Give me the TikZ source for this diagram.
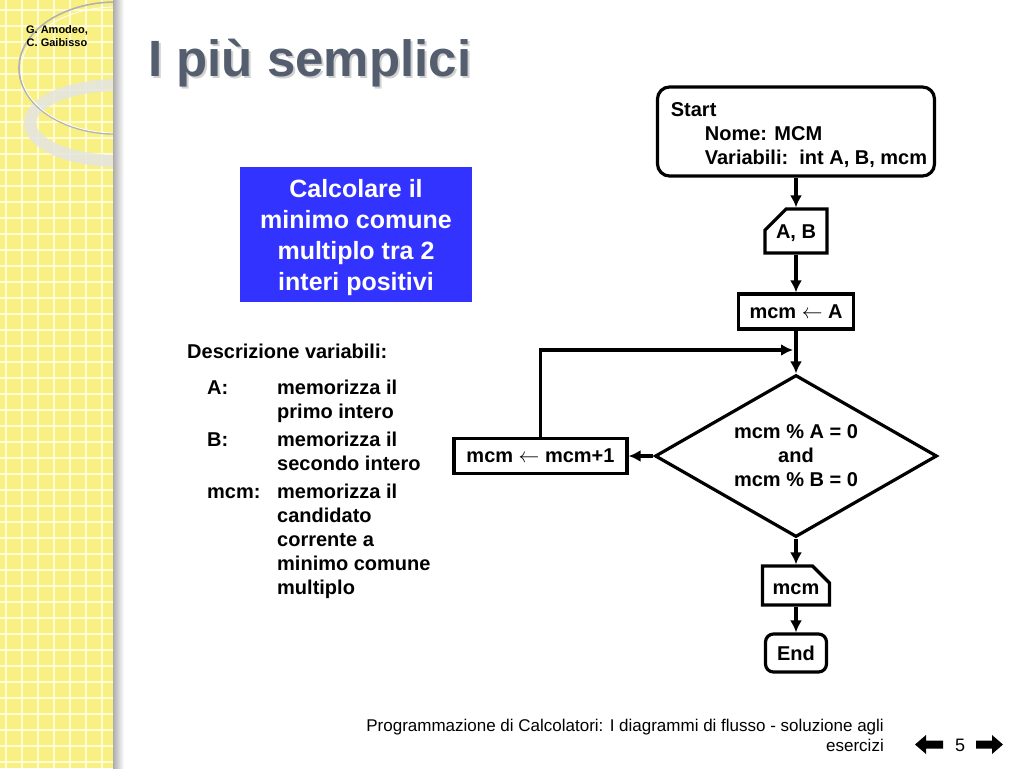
\documentclass[tikz,border=0pt]{standalone}
\usepackage{fontspec}
\setmainfont{Liberation Sans}
\usetikzlibrary{shapes.geometric,shapes.misc,arrows.meta}

\definecolor{giallo}{RGB}{248,240,128}
\definecolor{griglia}{RGB}{255,251,212}
\definecolor{blu}{RGB}{51,51,255}
\definecolor{grigiotitolo}{RGB}{84,94,110}

\tikzset{
  blocco/.style={draw, line width=3.2pt, font=\fontsize{20}{24}\selectfont\bfseries, inner sep=0pt, align=center},
  freccia/.style={line width=3.2pt, -{Latex[length=12pt,width=12pt]}},
  angolo/.style={chamfered rectangle, chamfered rectangle xsep=12pt, chamfered rectangle ysep=12pt},
}

\begin{document}
\begin{tikzpicture}[x=1pt,y=-1pt]
    \useasboundingbox (0,0) rectangle (1024,768);
    \fill[white] (0,0) rectangle (1024,768);

    % Barra laterale
    \begin{scope}
        \clip (0,0) rectangle (113,768);
        \fill[giallo] (0,0) rectangle (113,768);
        \foreach \gx in {6,22,...,118} \draw[griglia, line width=1.2pt] (\gx,0) -- (\gx,768);
        \foreach \gy in {10,26,...,778} \draw[griglia, line width=1.2pt] (0,\gy) -- (113,\gy);
        \draw[white!80!gray, opacity=0.85, line width=12pt] (118,123) ellipse [x radius=88, y radius=38];
        \draw[gray!60, line width=1.6pt] (116,68) ellipse [x radius=97, y radius=66];
        \draw[white, line width=0.8pt] (116,70) ellipse [x radius=95, y radius=63];
    \end{scope}
    \shade[left color=gray!65, right color=white] (113,0) rectangle (124,768);

    % Autori e titolo
    \node[font=\fontsize{11}{13}\selectfont\bfseries, align=center] (autori) at (57,36) {G. Amodeo,\\C. Gaibisso};
    \node[anchor=base west, inner sep=0, font=\fontsize{51}{51}\selectfont\bfseries, text=black!18] (ombra) at (150,78) {I più semplici};
    \node[anchor=base west, inner sep=0, font=\fontsize{51}{51}\selectfont\bfseries, text=grigiotitolo] (titolo) at (148,76) {I più semplici};

    % Testo del problema
    \node[fill=blu, text=white, font=\fontsize{25}{31}\selectfont\bfseries, align=center,
          minimum width=232, minimum height=135, inner sep=0] (problema) at (356,234.5)
          {\rule{0pt}{24pt}Calcolare il\\minimo comune\\multiplo tra 2\\interi positivi};

    % Descrizione variabili
    \node[anchor=north west, inner sep=0, font=\fontsize{20}{24}\selectfont\bfseries] (variabili) at (187,341) {%
        \begin{tabular}{@{\hspace{20pt}}p{70pt}@{}l@{}}
            \multicolumn{2}{@{}l@{}}{Descrizione variabili:}\\[12pt]
            A:   & memorizza il\\
                 & primo intero\\[4pt]
            B:   & memorizza il\\
                 & secondo intero\\[4pt]
            mcm: & memorizza il\\
                 & candidato\\
                 & corrente a\\
                 & minimo comune\\
                 & multiplo
        \end{tabular}};

    % Diagramma di flusso
    \node[blocco, rounded corners=12pt, align=left, minimum width=277, minimum height=89] (start) at (796,131.5)
          {\rule{0pt}{21pt}\hspace*{6pt}Start\\\hspace*{40pt}Nome: MCM\\\hspace*{40pt}Variabili:\ \ int A, B, mcm};
    \node[blocco, angolo, chamfered rectangle corners=north west, minimum width=62, minimum height=44] (leggi) at (796,231) {\raisebox{-2pt}[14pt][4pt]{A, B}};
    \node[blocco, minimum width=115, minimum height=35] (init) at (796,311.5) {mcm $\leftarrow$ A};
    \node[blocco, diamond, aspect=1.74, minimum width=282, minimum height=162] (test) at (796,456) {mcm \% A = 0\\and\\mcm \% B = 0};
    \node[blocco, minimum width=173, minimum height=35] (incr) at (540.5,456) {mcm $\leftarrow$ mcm+1};
    \node[blocco, angolo, chamfered rectangle corners=north east, minimum width=67, minimum height=39] (scrivi) at (796,585.5) {\raisebox{-4pt}[10pt][0pt]{mcm}};
    \node[blocco, rounded corners=8pt, minimum width=61, minimum height=38] (fine) at (796,653) {End};
    \coordinate (ritorno) at (793,350);

    % Connettori
    \draw[freccia] (start.south) -- (leggi.north);
    \draw[freccia] (leggi.south) -- (init.north);
    \draw[freccia] (init.south) -- (test.north);
    \draw[freccia] (test.west) -- (incr.east);
    \draw[freccia] (incr.north) |- (ritorno);
    \draw[freccia] (test.south) -- (scrivi.north);
    \draw[freccia] (scrivi.south) -- (fine.north);

    % Piede della pagina
    \node[anchor=east, align=right, inner sep=0, font=\fontsize{17}{20}\selectfont] (piede) at (884,735)
          {Programmazione di Calcolatori: I diagrammi di flusso - soluzione agli\\esercizi};
    \node[font=\fontsize{18}{18}\selectfont] (pagina) at (960,745) {5};
    \fill (915,744.5) -- (926,735) -- (926,740.5) -- (943,740.5) -- (943,748.5) -- (926,748.5) -- (926,754) -- cycle;
    \fill (1003,744.5) -- (992,735) -- (992,740.5) -- (976,740.5) -- (976,748.5) -- (992,748.5) -- (992,754) -- cycle;

\end{tikzpicture}
\end{document}
